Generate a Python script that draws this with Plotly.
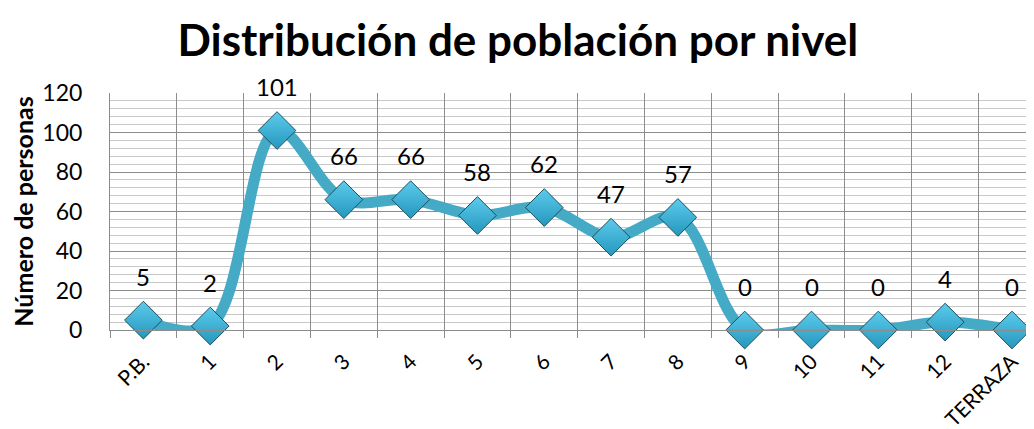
import plotly.graph_objects as go

niveles = ["P.B.", "1", "2", "3", "4", "5", "6", "7", "8", "9", "10", "11", "12", "TERRAZA"]
personas = [5, 2, 101, 66, 66, 58, 62, 47, 57, 0, 0, 0, 4, 0]

FONT = "Lato"

fig = go.Figure()
fig.add_trace(go.Scatter(
    x=niveles, y=personas, mode="lines+markers",
    line=dict(color="#44aac6", width=11, shape="spline", smoothing=1.0),
    marker=dict(symbol="diamond", size=29, color="#5ccbec",
                gradient=dict(type="vertical", color="#2597bd"),
                line=dict(color="#1e4f5e", width=1)),
    cliponaxis=False, hoverinfo="skip", showlegend=False,
))

for n, p in zip(niveles, personas):
    fig.add_annotation(x=n, y=p, text=str(p), showarrow=False, yshift=44,
                       font=dict(family=FONT, size=24, color="#000000"))

fig.update_layout(
    width=1034, height=429,
    paper_bgcolor="white", plot_bgcolor="white",
    margin=dict(l=102, r=0, t=85, b=107),
    title=dict(text="<b>Distribución de población por nivel</b>", x=0.493, xanchor="center",
               y=0.925, yanchor="middle", font=dict(family=FONT, size=44, color="#000000")),
    font=dict(family=FONT, color="#000000"),
)
fig.update_xaxes(
    type="category", range=[-0.5, 13.45], tickson="boundaries", automargin=False,
    showgrid=True, gridcolor="#8c8c8c", gridwidth=1,
    ticks="outside", ticklen=7, tickcolor="#8c8c8c",
    showline=True, linecolor="#8c8c8c", linewidth=1,
    tickangle=-45, ticklabelstandoff=10, tickfont=dict(family=FONT, size=21, color="#000000"),
    fixedrange=True,
)
fig.update_yaxes(
    range=[0, 120], dtick=20, tick0=0, automargin=False,
    showgrid=True, gridcolor="#8c8c8c", gridwidth=1,
    minor=dict(dtick=4, showgrid=True, gridcolor="#c8c8c8", gridwidth=1),
    showline=True, linecolor="#8c8c8c", linewidth=1, zeroline=False,
    ticks="", ticklabelstandoff=22, tickfont=dict(family=FONT, size=23, color="#000000"),
    title=dict(text="<b>Número de personas</b>", font=dict(family=FONT, size=25, color="#000000"), standoff=8),
    fixedrange=True,
)

fig.write_html("out.html")
